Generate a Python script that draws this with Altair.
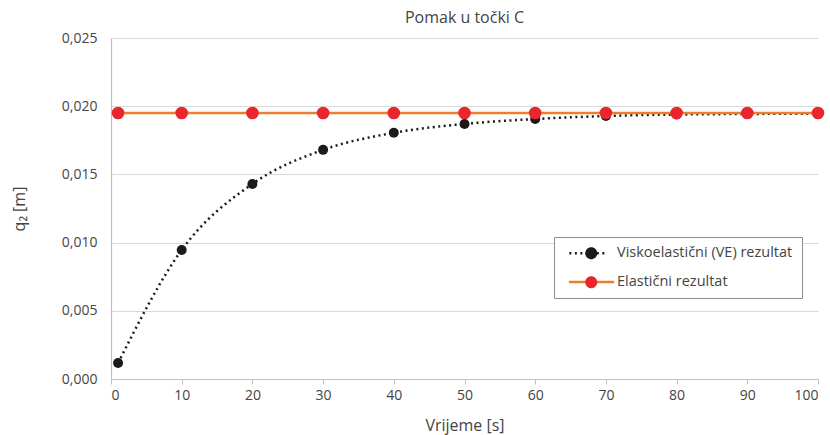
import altair as alt
import pandas as pd

x_vals = [1, 10, 20, 30, 40, 50, 60, 70, 80, 90, 100]
ve_vals = [0.00117, 0.00946, 0.01430, 0.01680, 0.01805, 0.01870, 0.01906, 0.01928, 0.01939, 0.01943, 0.01946]
el_vals = [0.0195] * 11
series_names = ["Viskoelastični (VE) rezultat", "Elastični rezultat"]

rows = []
for xv, yv in zip(x_vals, ve_vals):
    rows.append({"t": xv, "q": yv, "s": series_names[0], "s2": series_names[0]})
for xv, yv in zip(x_vals, el_vals):
    rows.append({"t": xv, "q": yv, "s": series_names[1], "s2": series_names[1]})
df = pd.DataFrame(rows)

FONT = "Open Sans"
TXT = "#444444"

line_sym = "M-0.33,0 L6.83,0"
circ_sym = "M4.5,0 A1,1 0 1,1 2.5,0 A1,1 0 1,1 4.5,0 Z"
common = dict(title=None, orient="none", legendX=443, legendY=199,
              symbolSize=144, labelOffset=38, rowPadding=14, padding=9)
leg_line = alt.Legend(symbolType=line_sym, symbolStrokeWidth=2.5, labelFontSize=14.5,
                      strokeColor="#8c8c8c", fillColor="white", **common)
leg_circ = alt.Legend(symbolType=circ_sym, symbolStrokeWidth=0, labelExpr="' '", labelFontSize=14.5,
                      strokeColor="transparent", fillColor="transparent", **common)

xenc = alt.X("t:Q", scale=alt.Scale(domain=[0, 100], nice=False),
             axis=alt.Axis(title="Vrijeme [s]", values=list(range(0, 101, 10)), grid=False,
                           tickSize=5, labelPadding=4, titlePadding=15))
yenc = alt.Y("q:Q", scale=alt.Scale(domain=[0, 0.025], nice=False),
             axis=alt.Axis(title="q₂ [m]", values=[0, 0.005, 0.01, 0.015, 0.02, 0.025],
                           labelExpr="replace(format(datum.value, '.3f'), '.', ',')",
                           ticks=False, labelPadding=14, titlePadding=34))

dom = series_names
lines = alt.Chart(df).mark_line(interpolate="monotone", strokeWidth=2.5).encode(
    x=xenc, y=yenc,
    stroke=alt.Stroke("s:N", scale=alt.Scale(domain=dom, range=["#1a1a1a", "#ED7D31"]), legend=leg_line),
    strokeDash=alt.StrokeDash("s:N", scale=alt.Scale(domain=dom, range=[[2, 3.5], [1, 0]]), legend=leg_line),
)
points = alt.Chart(df).mark_point(filled=True, opacity=1, strokeWidth=0).encode(
    x=xenc, y=yenc,
    fill=alt.Fill("s2:N", sort=dom, scale=alt.Scale(range=["#1a1a1a", "#E8262B"]), legend=leg_circ),
    size=alt.Size("s:N", scale=alt.Scale(domain=dom, range=[100, 160]), legend=None),
)

chart = alt.layer(lines, points).properties(
    width=707, height=341,
    title=alt.TitleParams("Pomak u točki C", font=FONT, fontSize=16, fontWeight="normal", color=TXT, offset=5),
    autosize=alt.AutoSizeParams(type="none"),
    padding={"left": 111, "top": 38, "right": 12, "bottom": 56},
).configure_view(stroke=None).configure_axis(
    labelFont=FONT, titleFont=FONT, labelFontSize=14, titleFontSize=16,
    labelColor=TXT, titleColor=TXT, titleFontWeight="normal",
    domainColor="#bfbfbf", tickColor="#bfbfbf", gridColor="#d9d9d9", domainWidth=1.2,
).configure_legend(labelFont=FONT, labelColor=TXT, labelLimit=300)

chart.save("out.html", embed_options={"renderer": "svg", "actions": False})
